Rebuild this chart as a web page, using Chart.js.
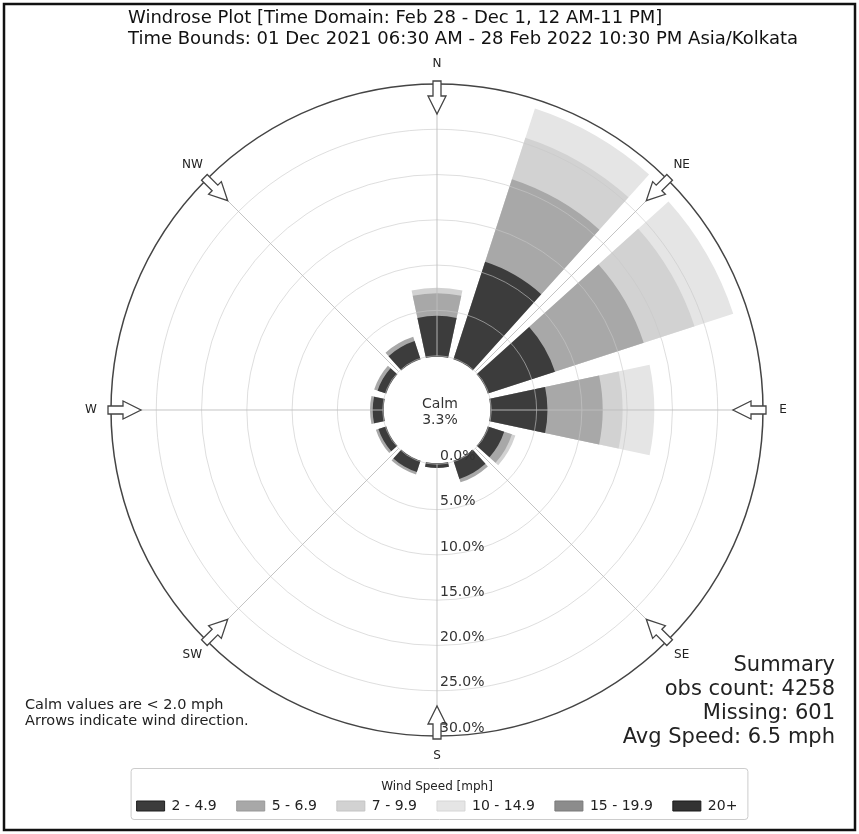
<!DOCTYPE html>
<html>
<head>
<meta charset="utf-8">
<script src="https://cdn.jsdelivr.net/npm/chart.js@4.4.1/dist/chart.umd.min.js"></script>
<style>
  html, body { margin: 0; padding: 0; background: #fff; }
  #wrap { width: 859px; height: 834px; }
</style>
</head>
<body>
<div id="wrap"><canvas id="windrose" width="859" height="834"></canvas></div>
<script>
const sectors = ['0°', '30°', '60°', '90°', '120°', '150°', '180°', '210°', '240°', '270°', '300°', '330°'];
const speedBins = ['2 - 4.9', '5 - 6.9', '7 - 9.9', '10 - 14.9', '15 - 19.9', '20+'];
const speed2to5   = [4.4, 11.2, 7.7, 6.2, 1.8, 2.0, 0.4, 1.2, 0.8, 1.1, 0.9, 2.0];
const speed5to7   = [2.5, 9.6, 10.3, 6.1, 0.9, 0.4, 0.0, 0.3, 0.3, 0.3, 0.4, 0.5];
const speed7to10  = [0.6, 4.8, 5.9, 2.2, 0.4, 0.0, 0.0, 0.0, 0.0, 0.0, 0.0, 0.0];
const speed10to15 = [0.0, 3.4, 4.5, 3.5, 0.0, 0.0, 0.0, 0.0, 0.0, 0.0, 0.0, 0.0];
const speed15to20 = [0.0, 0.0, 0.0, 0.0, 0.0, 0.0, 0.0, 0.0, 0.0, 0.0, 0.0, 0.0];
const speed20plus = [0.0, 0.0, 0.0, 0.0, 0.0, 0.0, 0.0, 0.0, 0.0, 0.0, 0.0, 0.0];
const radialTicks = [0, 5, 10, 15, 20, 25, 30];
const compassLabels = ['N', 'NE', 'E', 'SE', 'S', 'SW', 'W', 'NW'];
const calmPercent = 3.3;

const titleLines = [
  'Windrose Plot [Time Domain: Feb 28 - Dec 1, 12 AM-11 PM]',
  'Time Bounds: 01 Dec 2021 06:30 AM - 28 Feb 2022 10:30 PM Asia/Kolkata'
];
const noteLines = ['Calm values are < 2.0 mph', 'Arrows indicate wind direction.'];
const summaryLines = ['Summary', 'obs count: 4258', 'Missing: 601', 'Avg Speed: 6.5 mph'];

const binColors = ['#3c3c3c', '#a8a8a8', '#d2d2d2', '#e5e5e5', '#8c8c8c', '#333333'];
const binEdges  = ['#1e1e1e', '#999999', '#c4c4c4', '#d6d6d6', '#7a7a7a', '#1a1a1a'];
const barAngle = 24; // degrees of the 30 deg sector covered by a bar
const FONT = 'DejaVu Sans';

// stacked bars: each speed bin is drawn as its cumulative radius, smaller ones on top
const binSeries = [speed2to5, speed5to7, speed7to10, speed10to15, speed15to20, speed20plus];
const datasets = binSeries.map((series, b) => {
  const data = [];
  sectors.forEach((_, i) => {
    let cum = 0;
    for (let k = 0; k <= b; k++) cum += binSeries[k][i];
    data.push(series[i] > 0 ? cum : null);
    data.push(null); // gap between bars
  });
  return {
    label: speedBins[b],
    data: data,
    backgroundColor: binColors[b],
    borderWidth: 0,
    angle: ctx => (ctx.dataIndex % 2 ? 30 - barAngle : barAngle)
  };
});

const decorations = {
  id: 'decorations',
  beforeDraw(chart) {
    const ctx = chart.ctx;
    ctx.save();
    ctx.fillStyle = '#fff';
    ctx.fillRect(0, 0, chart.width, chart.height);
    ctx.restore();
  },
  afterDraw(chart) {
    const ctx = chart.ctx;
    const r = chart.scales.r;
    const cx = r.xCenter, cy = r.yCenter, R = r.drawingArea;
    const calmR = r.getDistanceFromCenterForValue(0);
    ctx.save();

    // compass lines
    ctx.strokeStyle = 'rgba(190,190,190,0.9)';
    ctx.lineWidth = 1;
    compassLabels.forEach((lab, k) => {
      const a = k * Math.PI / 4;
      const ux = Math.sin(a), uy = -Math.cos(a);
      ctx.beginPath();
      ctx.moveTo(cx + ux * calmR, cy + uy * calmR);
      ctx.lineTo(cx + ux * R, cy + uy * R);
      ctx.stroke();
    });

    // calm circle
    ctx.beginPath();
    ctx.arc(cx, cy, calmR - 1, 0, Math.PI * 2);
    ctx.fillStyle = '#fff';
    ctx.fill();
    ctx.fillStyle = '#333';
    ctx.font = '14px ' + FONT;
    ctx.textAlign = 'center';
    ctx.textBaseline = 'middle';
    ctx.fillText('Calm', cx + 3, cy - 6);
    ctx.fillText(calmPercent.toFixed(1) + '%', cx + 3, cy + 10);

    // arrows pointing inward
    compassLabels.forEach((lab, k) => {
      const a = k * Math.PI / 4;
      const ux = Math.sin(a), uy = -Math.cos(a);
      const px = -uy, py = ux;
      const tail = R + 3;
      const pts = [[0, -4], [15, -4], [15, -9], [33, 0], [15, 9], [15, 4], [0, 4]];
      ctx.beginPath();
      pts.forEach(([t, w], j) => {
        const x = cx + ux * (tail - t) + px * w;
        const y = cy + uy * (tail - t) + py * w;
        if (j === 0) ctx.moveTo(x, y); else ctx.lineTo(x, y);
      });
      ctx.closePath();
      ctx.fillStyle = '#fff';
      ctx.fill();
      ctx.strokeStyle = '#444';
      ctx.lineWidth = 1.3;
      ctx.stroke();

      ctx.fillStyle = '#222';
      ctx.font = '12px ' + FONT;
      ctx.textAlign = 'center';
      ctx.textBaseline = 'middle';
      const lr = R + 20;
      ctx.fillText(lab, cx + ux * lr, cy + uy * lr);
    });

    // radial tick labels along the south line
    ctx.font = '14px ' + FONT;
    ctx.fillStyle = '#333';
    ctx.textAlign = 'left';
    ctx.textBaseline = 'middle';
    r.ticks.forEach(t => {
      const d = r.getDistanceFromCenterForValue(t.value);
      ctx.fillText(t.value.toFixed(1) + '%', cx + 3, cy + d - 8);
    });

    // title
    ctx.fillStyle = '#111';
    ctx.font = '18px ' + FONT;
    ctx.textAlign = 'left';
    ctx.fillText(titleLines[0], 128, 18);
    ctx.fillText(titleLines[1], 128, 39);

    // notes
    ctx.font = '14.5px ' + FONT;
    ctx.fillStyle = '#222';
    ctx.fillText(noteLines[0], 25, 705);
    ctx.fillText(noteLines[1], 25, 721);

    // summary
    ctx.font = '21px ' + FONT;
    ctx.textAlign = 'right';
    summaryLines.forEach((s, i) => ctx.fillText(s, 835, 666 + i * 24));

    // legend frame
    const lg = chart.legend;
    if (lg && lg.legendHitBoxes.length) {
      const hb = lg.legendHitBoxes;
      const left = Math.min(...hb.map(h => h.left)) - 6;
      const right = Math.max(...hb.map(h => h.left + h.width)) + 10;
      const top = hb[0].top - 31;
      const bottom = hb[0].top + hb[0].height + 6;
      ctx.strokeStyle = '#cccccc';
      ctx.lineWidth = 1;
      ctx.beginPath();
      ctx.roundRect(left + 0.5, top + 0.5, right - left, bottom - top, 3);
      ctx.stroke();
    }

    // outer frame
    ctx.strokeStyle = '#111';
    ctx.lineWidth = 2.5;
    ctx.strokeRect(4, 4, chart.width - 8, chart.height - 8);
    ctx.restore();
  }
};

new Chart(document.getElementById('windrose'), {
  type: 'polarArea',
  data: {
    labels: sectors.flatMap(s => [s, '']),
    datasets: datasets
  },
  options: {
    responsive: false,
    animation: false,
    layout: { padding: { left: 111, right: 96, top: 82, bottom: 11 } },
    scales: {
      r: {
        min: -6,
        max: 30,
        startAngle: -barAngle / 2,
        afterBuildTicks: scale => { scale.ticks = radialTicks.map(v => ({ value: v })); },
        ticks: { display: false },
        angleLines: { display: false },
        pointLabels: { display: false },
        grid: {
          circular: true,
          z: 1,
          color: ctx => (ctx.tick && ctx.tick.value === 30 ? '#444' : 'rgba(200,200,200,0.6)'),
          lineWidth: ctx => (ctx.tick && ctx.tick.value === 30 ? 1.5 : 1)
        }
      }
    },
    plugins: {
      tooltip: { enabled: false },
      legend: {
        position: 'bottom',
        onClick: null,
        title: {
          display: true,
          text: 'Wind Speed [mph]',
          color: '#222',
          font: { family: FONT, size: 12 },
          padding: { top: 42, bottom: -16 }
        },
        labels: {
          boxWidth: 28,
          boxHeight: 10,
          padding: 20,
          color: '#222',
          font: { family: FONT, size: 14 },
          generateLabels: chart => chart.data.datasets.map((ds, i) => ({
            text: ds.label,
            fillStyle: binColors[i],
            strokeStyle: binEdges[i],
            lineWidth: 1,
            hidden: false,
            datasetIndex: i,
            fontColor: '#222'
          }))
        }
      }
    }
  },
  plugins: [decorations]
});
</script>
</body>
</html>
